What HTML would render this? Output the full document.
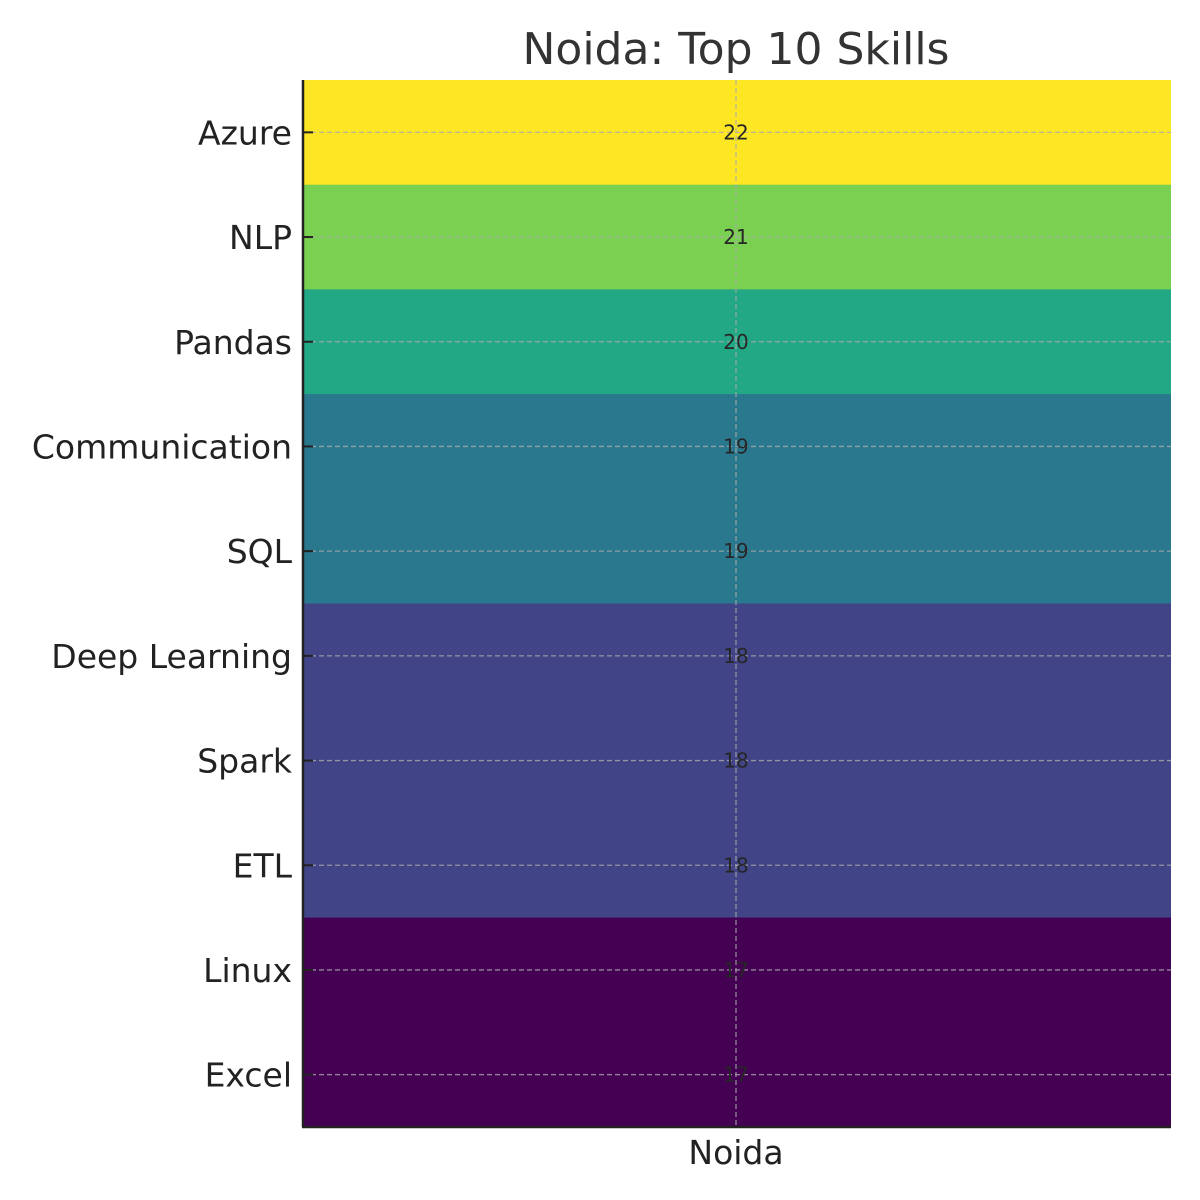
<!DOCTYPE html>
<html><head><meta charset="utf-8"><style>
html,body{margin:0;padding:0;background:#fff;}
svg{display:block;font-family:"DejaVu Sans","Liberation Sans",sans-serif;}
</style></head><body>
<svg id="chart" width="1200" height="1200" viewBox="0 0 1200 1200">
<text x="736" y="64" text-anchor="middle" font-size="44" fill="#333">Noida: Top 10 Skills</text>
<g id="cells"></g>
<g id="grid"></g>
<g id="labels"></g>
<line x1="303" y1="80" x2="303" y2="1127" stroke="#222" stroke-width="2.5"/>
<line x1="302" y1="1127" x2="1171" y2="1127" stroke="#222" stroke-width="2.5"/>
<text x="736" y="1164" text-anchor="middle" font-size="33" fill="#222">Noida</text>
</svg>
<script>
const skills=["Azure","NLP","Pandas","Communication","SQL","Deep Learning","Spark","ETL","Linux","Excel"];
const counts=[22,21,20,19,19,18,18,18,17,17];
const vmin=17, vmax=22;
const ns="http://www.w3.org/2000/svg";
const x0=303,x1=1171,y0=80,y1=1127;
const rowH=(y1-y0)/skills.length;
const yCenter=i=>y0+rowH*(i+0.5);
const viridis=[[68,1,84],[65,68,135],[42,120,142],[34,168,132],[122,209,81],[253,231,37]];
function color(v){
  let t=(v-vmin)/(vmax-vmin);t=Math.max(0,Math.min(1,t));
  const p=t*(viridis.length-1),i=Math.min(Math.floor(p),viridis.length-2),f=p-i;
  const c=viridis[i].map((a,k)=>Math.round(a+(viridis[i+1][k]-a)*f));
  return `rgb(${c.join(',')})`;
}
const cells=document.getElementById('cells'),grid=document.getElementById('grid'),labels=document.getElementById('labels');
function mk(tag,attrs,parent){const e=document.createElementNS(ns,tag);for(const k in attrs)e.setAttribute(k,attrs[k]);parent.appendChild(e);return e;}
skills.forEach((s,i)=>{
  const r=mk('rect',{x:x0,y:y0+rowH*i,width:x1-x0,height:rowH+0.5,fill:color(counts[i])},cells);
  
  
  const g=mk('line',{x1:x0,x2:x1,y1:yCenter(i),y2:yCenter(i),stroke:'#aaa','stroke-width':1.3,'stroke-dasharray':'5,3','stroke-opacity':0.8},grid);
  
  
  const tk=mk('line',{x1:x0,x2:x0+10,y1:yCenter(i),y2:yCenter(i),stroke:'#222','stroke-width':2},labels);
  
  
  const t=mk('text',{x:292,y:yCenter(i)+12,'text-anchor':'end','font-size':33,fill:'#222'},labels);
  t.textContent=s;
  
  
  const a=mk('text',{x:736,y:yCenter(i)+7,'text-anchor':'middle','font-size':20,fill:'#262626'},labels);
  a.textContent=counts[i];
  
  
});
const v=mk('line',{x1:736,x2:736,y1:y0,y2:y1,stroke:'#aaa','stroke-width':1.3,'stroke-dasharray':'5,3','stroke-opacity':0.8},grid);


</script>
</body></html>
